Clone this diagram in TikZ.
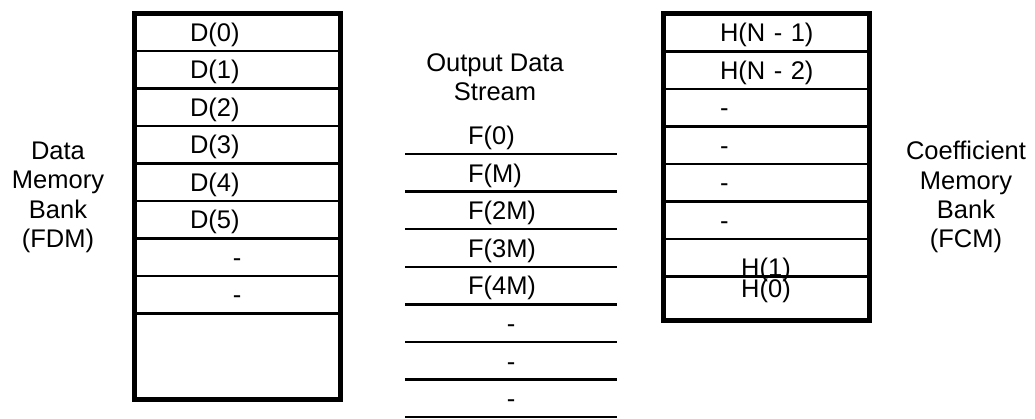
\documentclass[tikz,border=0pt]{standalone}
\usepackage{fontspec}
\setmainfont{Liberation Sans}
\usetikzlibrary{positioning}

\begin{document}
\begin{tikzpicture}[
  x=1pt, y=-1pt,
  txt/.style={font=\fontsize{25.5}{29.3}\selectfont, inner sep=0pt, outer sep=0pt},
  frame/.style={draw, line width=5pt, minimum width=206pt, inner sep=0pt, outer sep=0pt},
  cell/.style={txt, draw, line width=2.5pt, minimum width=206pt, minimum height=37.5pt, text height=18.5pt, text depth=0pt},
  dcell/.style={cell, inner xsep=56pt, text width=94pt, align=left},
  ccell/.style={cell, inner xsep=57pt, text width=92pt, align=left},
  slot/.style={txt, minimum width=212pt, minimum height=37.6pt, inner xsep=63pt, text width=86pt, align=left, text height=18.5pt, text depth=0pt},
  gap/.style={align=center},
  rule/.style={line width=2.5pt}
]
\useasboundingbox (0,0) rectangle (1035,419);

% data memory bank
\node[frame, minimum height=385.5pt] (fdm) at (237,206.25) {};
\node[dcell, anchor=north] (d0) at (fdm.north) {D(0)};
\node[dcell, below=0pt of d0] (d1) {D(1)};
\node[dcell, below=0pt of d1] (d2) {D(2)};
\node[dcell, below=0pt of d2] (d3) {D(3)};
\node[dcell, below=0pt of d3] (d4) {D(4)};
\node[dcell, below=0pt of d4] (d5) {D(5)};
\node[dcell, gap, below=0pt of d5] (d6) {-};
\node[dcell, gap, below=0pt of d6] (d7) {-};
\node[txt, align=center] (fdmlabel) at (58,197.3) {Data\\Memory\\Bank\\(FDM)};

% output stream
\node[txt, align=center] (outhead) at (495,77.2) {Output Data\\Stream};
\node[slot] (f0) at (511,135.2) {F(0)};
\node[slot, below=0pt of f0] (f1) {F(M)};
\node[slot, below=0pt of f1] (f2) {F(2M)};
\node[slot, below=0pt of f2] (f3) {F(3M)};
\node[slot, below=0pt of f3] (f4) {F(4M)};
\node[slot, gap, below=0pt of f4] (f5) {-};
\node[slot, gap, below=0pt of f5] (f6) {-};
\node[slot, gap, below=0pt of f6] (f7) {-};
\draw[rule] (f0.south west) -- (f0.south east);
\draw[rule] (f1.south west) -- (f1.south east);
\draw[rule] (f2.south west) -- (f2.south east);
\draw[rule] (f3.south west) -- (f3.south east);
\draw[rule] (f4.south west) -- (f4.south east);
\draw[rule] (f5.south west) -- (f5.south east);
\draw[rule] (f6.south west) -- (f6.south east);
\draw[rule] (f7.south west) -- (f7.south east);

% coefficient memory bank
\node[frame, minimum height=306pt] (fcm) at (766,167) {};
\node[ccell, anchor=north] (c0) at (fcm.north) {\mbox{H(N - 1)}};
\node[ccell, below=0pt of c0] (c1) {\mbox{H(N - 2)}};
\node[ccell, below=0pt of c1] (c2) {-};
\node[ccell, below=0pt of c2] (c3) {-};
\node[ccell, below=0pt of c3] (c4) {-};
\node[ccell, below=0pt of c4] (c5) {-};
\node[ccell, gap, text height=37pt, below=0pt of c5] (c6) {H(1)};
\node[txt, below=2.5pt of c6] (hzero) {H(0)};
\node[txt, align=center] (fcmlabel) at (966,197.3) {Coefficient\\Memory\\Bank\\(FCM)};
\end{tikzpicture}
\end{document}
